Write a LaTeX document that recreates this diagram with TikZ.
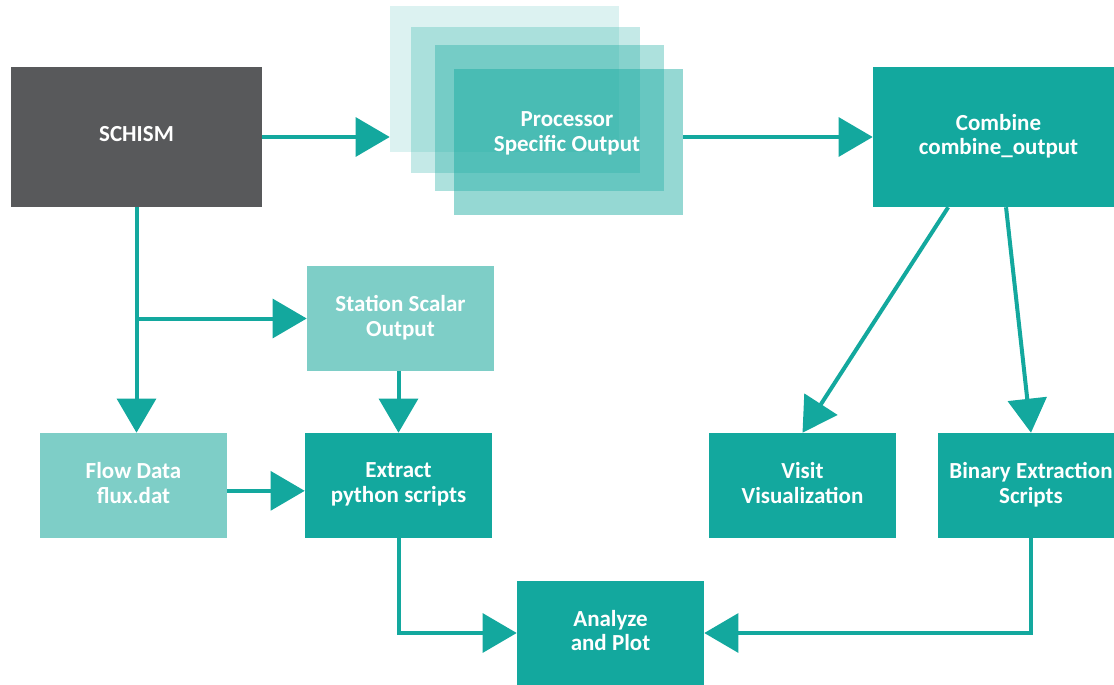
\documentclass[tikz,border=0pt]{standalone}
\usepackage{fontspec}
\setmainfont{Carlito}
\usetikzlibrary{arrows.meta,calc}
\definecolor{schismgray}{RGB}{88,89,91}
\definecolor{tealdark}{RGB}{19,168,158}
\definecolor{teallight}{RGB}{126,206,199}
\tikzstyle{arrow} = [line width=3pt,draw=tealdark,-{Triangle[length=25.5pt,width=29pt]}]
\tikzstyle{box} = [rectangle,inner sep=0pt,text=white,align=center,text depth=4pt,font=\bfseries\fontsize{17.25}{18.5}\selectfont,minimum width=140.25pt,minimum height=78.75pt]
\tikzstyle{layer} = [rectangle,inner sep=0pt,fill=tealdark,minimum width=171.75pt,minimum height=109.5pt]

\begin{document}
\begin{tikzpicture}[x=0.75pt,y=0.75pt,yscale=-1,xscale=1]
\clip (0,0) rectangle (1114,685);

%Shape: Rectangle [schism]
\node[box,fill=schismgray,minimum width=188.25pt,minimum height=105pt] (schism) at (136.5,137) {SCHISM};
%Shape: Rectangle stack [processor output]
\node[layer,fill opacity=0.15] (proc1) at (504.5,79) {};
\node[layer,fill opacity=0.25] (proc2) at (525.5,100) {};
\node[layer,fill opacity=0.35] (proc3) at (549.5,118) {};
\node[layer,fill opacity=0.45] (proc4) at (568.5,142) {};
% Text Node
\node[box,minimum width=0pt,minimum height=0pt] (proctext) at (567,134) {Processor\\Specific Output};
%Shape: Rectangle [combine]
\node[box,fill=tealdark,minimum width=188.25pt,minimum height=105pt] (combine) at (998.5,137) {Combine\\combine\_output};
%Shape: Rectangle [station]
\node[box,fill=teallight] (station) at (400.5,318.5) {Station Scalar\\Output};
%Shape: Rectangle [flow]
\node[box,fill=teallight] (flow) at (133.5,485.5) {Flow Data\\flux.dat};
%Shape: Rectangle [extract]
\node[box,fill=tealdark] (extract) at (398.5,485.5) {Extract\\python scripts};
%Shape: Rectangle [visit]
\node[box,fill=tealdark] (visit) at (802.5,485.5) {Visit\\Visualization};
%Shape: Rectangle [binary]
\node[box,fill=tealdark] (binary) at (1031,485.5) {Binary Extraction\\Scripts};
%Shape: Rectangle [analyze]
\node[box,fill=tealdark,minimum height=78pt] (analyze) at (610.5,633) {Analyze\\and Plot};

%Straight Lines
\draw[arrow] (schism.east) -- (schism.east -| proc1.west);
\draw[arrow] (combine.west -| proc4.east) -- (combine.west);
\draw[arrow] (schism.south) -- (schism.south |- flow.north);
\coordinate (branch) at (schism.south |- station.west);
\draw[arrow] (branch) -- (station.west);
\draw[arrow] (extract.north |- station.south) -- (extract.north);
\draw[arrow] ([yshift=4pt]flow.east) -- ([yshift=4pt]extract.west);
\draw[arrow] (extract.south) |- (analyze.west);
\draw[arrow] (binary.south) |- (analyze.east);
\draw[arrow] ($(combine.south west)!0.3!(combine.south east)$) -- (visit.north);
\draw[arrow] ($(combine.south west)!0.53!(combine.south east)$) -- (binary.north);

\end{tikzpicture}
\end{document}
